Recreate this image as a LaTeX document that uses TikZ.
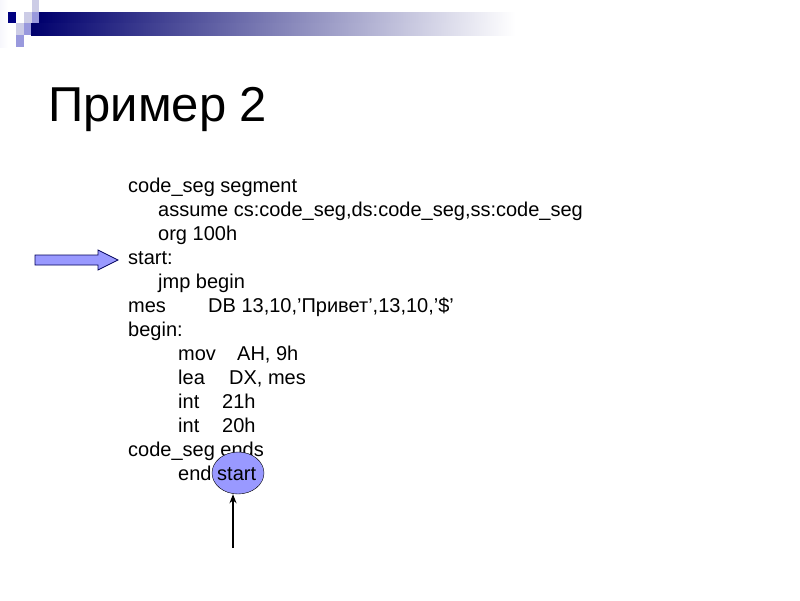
\documentclass[tikz,border=0pt]{standalone}
\usepackage{fontspec}
\setmainfont{Liberation Sans}
\usetikzlibrary{shapes.geometric,arrows.meta}
\begin{document}
\begin{tikzpicture}[x=1pt,y=-1pt,
  code/.style={anchor=base west,inner sep=0pt,font=\fontsize{20}{22}\selectfont}]
\useasboundingbox (0,0) rectangle (800,600);
\definecolor{navy}{RGB}{0,0,128}
\definecolor{lav}{RGB}{153,153,221}
\definecolor{lightlav}{RGB}{204,204,230}
\definecolor{arrowfill}{RGB}{153,153,255}
% decoration
\shade[left color=white!92!lav,right color=white] (0,0) rectangle (8,47);
\fill[lightlav] (32,0) rectangle (39,12);
\fill[navy] (8,12) rectangle (16,23);
\fill[lightlav] (24,12) rectangle (32,23);
\fill[lav] (32,12) rectangle (39,23);
\fill[lightlav] (16,23) rectangle (24,35);
\fill[lav] (24,23) rectangle (31,35);
\fill[lav] (16,35) rectangle (24,47);
\shade[left color=navy!85!black,right color=white] (39,12) rectangle (515,23);
\shade[left color=navy!85!black,right color=white] (31,23) rectangle (515,35);
% title
\node[anchor=base west,inner sep=0pt,font=\fontsize{49}{55}\selectfont] (title) at (48,121) {Пример 2};
% code
\node[code] (l1) at (128,192) {code\_seg segment};
\node[code] (l2) at (158,216) {assume cs:code\_seg,ds:code\_seg,ss:code\_seg};
\node[code] (l3) at (158,240) {org 100h};
\node[code] (l4) at (128,264) {start:};
\node[code] (l5) at (158,288) {jmp begin};
\node[code] (l6) at (128,312) {mes};
\node[code] (l6b) at (208,312) {DB 13,10,’Привет\symbol{39},13,10,\symbol{39}\$\symbol{39}};
\node[code] (l7) at (128,336) {begin:};
\node[code] (l8) at (178,360) {mov};
\node[code] (l8b) at (237,360) {AH, 9h};
\node[code] (l9) at (178,384) {lea};
\node[code] (l9b) at (229,384) {DX, mes};
\node[code] (l10) at (178,408) {int};
\node[code] (l10b) at (222,408) {21h};
\node[code] (l11) at (178,432) {int};
\node[code] (l11b) at (222,432) {20h};
\node[code] (l12) at (128,456) {code\_seg ends};
\node[ellipse,draw=black,fill=arrowfill,minimum width=52,minimum height=42,inner sep=0pt] (ell) at (238,473) {};
\node[code] (l13) at (178,480) {end};
\node[code] (l13b) at (217,480) {start};
% block arrow
\draw[fill=arrowfill,draw=navy!70!black,line width=0.8pt]
  (35,255) -- (98,255) -- (98,250) -- (118,260) -- (98,270) -- (98,265) -- (35,265) -- cycle;
% vertical arrow
\coordinate (tail) at (233,548);
\draw[-{Stealth[length=9pt,width=7pt]},line width=1.2pt] (tail) -- (ell.south -| tail);
\end{tikzpicture}
\end{document}
